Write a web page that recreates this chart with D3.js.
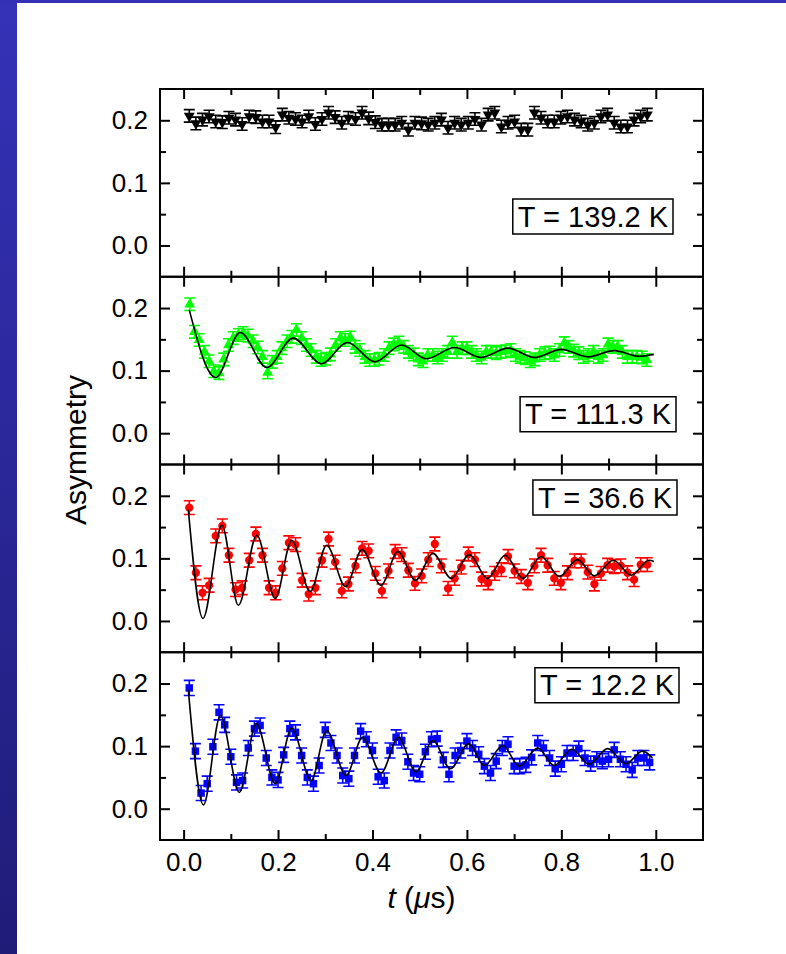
<!DOCTYPE html>
<html>
<head>
<meta charset="utf-8">
<script src="https://cdn.jsdelivr.net/npm/d3@7"></script>
<style>
  body { margin: 0; background: #fff; }
  svg text { font-family: Arial, "Liberation Sans", Helvetica, sans-serif; }
</style>
</head>
<body>
<svg id="chart"></svg>
<script>
// ---------------- data ----------------
// time bins (microseconds)
var timesA = [0.012, 0.026, 0.040, 0.054, 0.068, 0.082, 0.096, 0.110, 0.124, 0.139,
  0.153, 0.167, 0.181, 0.195, 0.209, 0.223, 0.237, 0.251, 0.265, 0.279,
  0.293, 0.307, 0.321, 0.335, 0.349, 0.364, 0.378, 0.392, 0.406, 0.420,
  0.434, 0.448, 0.462, 0.476, 0.490, 0.504, 0.518, 0.532, 0.546, 0.560,
  0.574, 0.588, 0.603, 0.617, 0.631, 0.645, 0.659, 0.673, 0.687, 0.701,
  0.715, 0.729, 0.743, 0.757, 0.771, 0.785, 0.799, 0.813, 0.828, 0.842,
  0.856, 0.870, 0.884, 0.898, 0.912, 0.926, 0.940, 0.954, 0.968, 0.982];
var timesB = [0.013, 0.023, 0.033, 0.044, 0.054, 0.064, 0.075, 0.085, 0.095, 0.105,
  0.116, 0.126, 0.136, 0.147, 0.157, 0.167, 0.178, 0.188, 0.198, 0.208,
  0.219, 0.229, 0.239, 0.250, 0.260, 0.270, 0.281, 0.291, 0.301, 0.311,
  0.322, 0.332, 0.342, 0.353, 0.363, 0.373, 0.384, 0.394, 0.404, 0.414,
  0.425, 0.435, 0.445, 0.456, 0.466, 0.476, 0.487, 0.497, 0.507, 0.517,
  0.528, 0.538, 0.548, 0.559, 0.569, 0.579, 0.590, 0.600, 0.610, 0.620,
  0.631, 0.641, 0.651, 0.662, 0.672, 0.682, 0.693, 0.703, 0.713, 0.723,
  0.734, 0.744, 0.754, 0.765, 0.775, 0.785, 0.796, 0.806, 0.816, 0.826,
  0.837, 0.847, 0.857, 0.868, 0.878, 0.888, 0.899, 0.909, 0.919, 0.929,
  0.940, 0.950, 0.960, 0.971, 0.981];
var timesC = [0.012, 0.025, 0.037, 0.050, 0.062, 0.075, 0.087, 0.100, 0.112, 0.125,
  0.137, 0.150, 0.162, 0.175, 0.187, 0.200, 0.212, 0.225, 0.237, 0.250,
  0.262, 0.275, 0.287, 0.300, 0.312, 0.325, 0.337, 0.350, 0.362, 0.375,
  0.387, 0.400, 0.412, 0.425, 0.437, 0.450, 0.462, 0.475, 0.487, 0.500,
  0.512, 0.525, 0.537, 0.550, 0.562, 0.575, 0.587, 0.600, 0.612, 0.625,
  0.637, 0.650, 0.662, 0.675, 0.687, 0.700, 0.712, 0.725, 0.737, 0.750,
  0.762, 0.775, 0.787, 0.800, 0.812, 0.825, 0.837, 0.850, 0.862, 0.875,
  0.887, 0.900, 0.912, 0.925, 0.937, 0.950, 0.962, 0.975, 0.987];

// asymmetry values
var asym139 = [0.207, 0.195, 0.201, 0.206, 0.198, 0.197, 0.204, 0.201, 0.194, 0.206,
  0.205, 0.198, 0.198, 0.189, 0.209, 0.204, 0.202, 0.198, 0.206, 0.194,
  0.202, 0.212, 0.205, 0.196, 0.204, 0.202, 0.212, 0.203, 0.197, 0.193,
  0.193, 0.193, 0.196, 0.185, 0.196, 0.195, 0.193, 0.196, 0.201, 0.188,
  0.196, 0.193, 0.196, 0.202, 0.193, 0.209, 0.212, 0.190, 0.196, 0.198,
  0.185, 0.185, 0.212, 0.204, 0.198, 0.198, 0.204, 0.206, 0.201, 0.198,
  0.193, 0.196, 0.206, 0.209, 0.196, 0.190, 0.190, 0.201, 0.206, 0.209];
var asym111 = [0.206, 0.162, 0.149, 0.130, 0.115, 0.099, 0.096, 0.118, 0.141, 0.152,
  0.157, 0.160, 0.156, 0.147, 0.137, 0.122, 0.097, 0.114, 0.122, 0.136,
  0.147, 0.154, 0.165, 0.152, 0.141, 0.133, 0.122, 0.117, 0.119, 0.126,
  0.141, 0.152, 0.149, 0.153, 0.138, 0.133, 0.122, 0.117, 0.117, 0.119,
  0.125, 0.136, 0.142, 0.145, 0.138, 0.130, 0.126, 0.118, 0.115, 0.125,
  0.125, 0.121, 0.125, 0.130, 0.145, 0.130, 0.136, 0.136, 0.130, 0.125,
  0.121, 0.130, 0.130, 0.128, 0.130, 0.131, 0.133, 0.125, 0.122, 0.120,
  0.115, 0.118, 0.125, 0.128, 0.129, 0.125, 0.133, 0.144, 0.138, 0.132,
  0.128, 0.122, 0.125, 0.130, 0.122, 0.125, 0.142, 0.138, 0.138, 0.130,
  0.122, 0.122, 0.122, 0.121, 0.117];
var asym36 = [0.181, 0.077, 0.045, 0.057, 0.136, 0.152, 0.105, 0.050, 0.053, 0.097,
  0.139, 0.105, 0.053, 0.045, 0.084, 0.125, 0.122, 0.065, 0.043, 0.053,
  0.097, 0.131, 0.094, 0.048, 0.059, 0.088, 0.116, 0.112, 0.076, 0.048,
  0.080, 0.111, 0.106, 0.081, 0.060, 0.072, 0.098, 0.123, 0.088, 0.052,
  0.068, 0.086, 0.107, 0.098, 0.067, 0.061, 0.076, 0.082, 0.103, 0.080,
  0.071, 0.061, 0.088, 0.105, 0.089, 0.068, 0.061, 0.077, 0.096, 0.096,
  0.078, 0.059, 0.076, 0.089, 0.087, 0.088, 0.077, 0.066, 0.090, 0.090];
var asym12 = [0.193, 0.092, 0.025, 0.040, 0.099, 0.154, 0.134, 0.083, 0.042, 0.045,
  0.097, 0.128, 0.133, 0.081, 0.050, 0.046, 0.086, 0.128, 0.122, 0.085,
  0.050, 0.040, 0.069, 0.126, 0.105, 0.085, 0.053, 0.048, 0.085, 0.124,
  0.111, 0.093, 0.051, 0.045, 0.093, 0.114, 0.109, 0.075, 0.057, 0.055,
  0.091, 0.111, 0.112, 0.078, 0.055, 0.085, 0.093, 0.108, 0.097, 0.087,
  0.068, 0.057, 0.076, 0.097, 0.103, 0.068, 0.068, 0.070, 0.082, 0.105,
  0.097, 0.081, 0.064, 0.071, 0.089, 0.089, 0.096, 0.081, 0.072, 0.079,
  0.076, 0.079, 0.094, 0.079, 0.071, 0.062, 0.081, 0.081, 0.074];

// error bar half-widths per panel
var errors = [0.010, 0.010, 0.011, 0.012];

// fit curves: turning points of the black lines
var fit111T = [0.012, 0.068, 0.120, 0.176, 0.232, 0.292, 0.347, 0.405, 0.462, 0.514,
  0.574, 0.630, 0.687, 0.743, 0.800, 0.856, 0.912, 0.965, 0.996];
var fit111Y = [0.197, 0.089, 0.161, 0.105, 0.152, 0.111, 0.145, 0.114, 0.141, 0.119,
  0.137, 0.121, 0.136, 0.121, 0.134, 0.122, 0.132, 0.123, 0.126];
var fit36T = [0.010, 0.041, 0.081, 0.116, 0.155, 0.194, 0.229, 0.268, 0.303, 0.343,
  0.378, 0.418, 0.454, 0.491, 0.528, 0.567, 0.605, 0.644, 0.681, 0.719,
  0.757, 0.796, 0.834, 0.870, 0.910, 0.948, 0.986, 0.996];
var fit36Y = [0.178, 0.004, 0.153, 0.025, 0.137, 0.036, 0.129, 0.047, 0.121, 0.055,
  0.114, 0.057, 0.111, 0.065, 0.108, 0.068, 0.106, 0.068, 0.105, 0.068,
  0.103, 0.071, 0.098, 0.072, 0.097, 0.073, 0.097, 0.095];
var fit12T = [0.010, 0.042, 0.078, 0.118, 0.154, 0.194, 0.229, 0.270, 0.303, 0.344,
  0.379, 0.418, 0.455, 0.492, 0.528, 0.565, 0.604, 0.637, 0.676, 0.711,
  0.750, 0.785, 0.822, 0.859, 0.898, 0.937, 0.972, 0.993];
var fit12Y = [0.190, 0.006, 0.149, 0.026, 0.136, 0.040, 0.129, 0.045, 0.125, 0.053,
  0.114, 0.057, 0.114, 0.059, 0.109, 0.064, 0.104, 0.069, 0.101, 0.068,
  0.097, 0.069, 0.095, 0.071, 0.096, 0.072, 0.092, 0.081];

var tempLabels = ["T = 139.2 K", "T = 111.3 K", "T = 36.6 K", "T = 12.2 K"];
var xTicks = [0, 0.2, 0.4, 0.6, 0.8, 1.0];
var xMinor = [0.1, 0.3, 0.5, 0.7, 0.9];
var yTicks = [0, 0.1, 0.2];
var yMinor = [0.05, 0.15];

// ---------------- layout ----------------
var W = 786, H = 954;
var plotLeft = 160, plotRight = 703, plotTop = 89, panelH = 187.75;
var boxRight = [673, 676, 677, 679];
var boxTop = [110, 120, 15.5, 15.5];
var fontStack = 'Arial, "Liberation Sans", Helvetica, sans-serif';

var panels = [
  {t: timesA, v: asym139, color: '#000000', shape: 'down', size: 52, err: errors[0], fitT: null, fitY: null},
  {t: timesB, v: asym111, color: '#00ff00', shape: 'up', size: 52, err: errors[1], fitT: fit111T, fitY: fit111Y},
  {t: timesA, v: asym36, color: '#ff0000', shape: 'circle', size: 54, err: errors[2], fitT: fit36T, fitY: fit36Y},
  {t: timesC, v: asym12, color: '#0000ff', shape: 'square', size: 56, err: errors[3], fitT: fit12T, fitY: fit12Y}
];

var svg = d3.select('#chart').attr('width', W).attr('height', H);

// blue slide edge
var grad = svg.append('defs').append('linearGradient')
  .attr('id', 'edge').attr('x1', 0).attr('y1', 0).attr('x2', 0).attr('y2', 1);
grad.append('stop').attr('offset', '0%').attr('stop-color', '#3532b8');
grad.append('stop').attr('offset', '100%').attr('stop-color', '#1f1c78');
svg.append('rect').attr('width', W).attr('height', H).attr('fill', '#ffffff');
svg.append('rect').attr('x', 0).attr('y', 0).attr('width', 17).attr('height', H).attr('fill', 'url(#edge)');
svg.append('rect').attr('x', 0).attr('y', 0).attr('width', W).attr('height', 3).attr('fill', '#3431b6');

var x = d3.scaleLinear().domain([-0.05, 1.1]).range([plotLeft, plotRight]);

function styleAxis(sel) {
  sel.select('.domain').remove();
  sel.selectAll('line').attr('stroke', '#000').attr('stroke-width', 2);
  sel.selectAll('text').attr('font-size', 26).attr('font-family', fontStack).attr('fill', '#000');
}

var shapes = {up: d3.symbolTriangle, down: d3.symbolTriangle, circle: d3.symbolCircle, square: d3.symbolSquare};

panels.forEach(function(p, k) {
  var y0 = plotTop + k * panelH, y1 = y0 + panelH;
  var y = d3.scaleLinear().domain([-0.05, 0.25]).range([y1, y0]);
  var g = svg.append('g');
  var last = (k === panels.length - 1);

  // ticks on all four sides, pointing inward
  g.append('g').attr('transform', 'translate(' + plotLeft + ',0)')
    .call(d3.axisLeft(y).tickValues(yTicks).tickSize(-10).tickPadding(12).tickFormat(d3.format('.1f')))
    .call(styleAxis);
  g.append('g').attr('transform', 'translate(' + plotLeft + ',0)')
    .call(d3.axisLeft(y).tickValues(yMinor).tickSize(-6).tickFormat(''))
    .call(styleAxis);
  g.append('g').attr('transform', 'translate(' + plotRight + ',0)')
    .call(d3.axisRight(y).tickValues(yTicks).tickSize(-10).tickFormat(''))
    .call(styleAxis);
  g.append('g').attr('transform', 'translate(' + plotRight + ',0)')
    .call(d3.axisRight(y).tickValues(yMinor).tickSize(-6).tickFormat(''))
    .call(styleAxis);
  g.append('g').attr('transform', 'translate(0,' + y0 + ')')
    .call(d3.axisTop(x).tickValues(xTicks).tickSize(-10).tickFormat(''))
    .call(styleAxis);
  g.append('g').attr('transform', 'translate(0,' + y0 + ')')
    .call(d3.axisTop(x).tickValues(xMinor).tickSize(-6).tickFormat(''))
    .call(styleAxis);
  g.append('g').attr('transform', 'translate(0,' + y1 + ')')
    .call(d3.axisBottom(x).tickValues(xTicks).tickSize(-10).tickPadding(13)
      .tickFormat(last ? d3.format('.1f') : ''))
    .call(styleAxis);
  g.append('g').attr('transform', 'translate(0,' + y1 + ')')
    .call(d3.axisBottom(x).tickValues(xMinor).tickSize(-6).tickFormat(''))
    .call(styleAxis);

  var pts = p.t.map(function(t, i) { return {t: t, v: p.v[i]}; });

  // error bars with caps
  g.append('g').attr('stroke', p.color).attr('stroke-width', 1.6).attr('fill', 'none')
    .selectAll('path').data(pts).enter().append('path')
    .attr('d', function(d) {
      var cx = x(d.t), hi = y(d.v + p.err), lo = y(d.v - p.err);
      return 'M' + (cx - 5.5) + ',' + hi + 'H' + (cx + 5.5) +
             'M' + cx + ',' + hi + 'V' + lo +
             'M' + (cx - 5.5) + ',' + lo + 'H' + (cx + 5.5);
    });

  // markers
  var sym = d3.symbol().type(shapes[p.shape]).size(p.size);
  g.append('g').selectAll('path').data(pts).enter().append('path')
    .attr('d', sym)
    .attr('fill', p.color)
    .attr('transform', function(d) {
      return 'translate(' + x(d.t) + ',' + y(d.v) + ')' + (p.shape === 'down' ? ' rotate(180)' : '');
    });

  // fit
  if (p.fitT) {
    var fit = p.fitT.map(function(t, i) { return {t: t, v: p.fitY[i]}; });
    var line = d3.line().curve(d3.curveMonotoneX)
      .x(function(d) { return x(d.t); })
      .y(function(d) { return y(d.v); });
    g.append('path').datum(fit)
      .attr('d', line)
      .attr('fill', 'none')
      .attr('stroke', '#000')
      .attr('stroke-width', 1.6);
  }

  // frame
  g.append('rect')
    .attr('x', plotLeft).attr('y', y0)
    .attr('width', plotRight - plotLeft).attr('height', panelH)
    .attr('fill', 'none').attr('stroke', '#000').attr('stroke-width', 2);

  // temperature box
  var box = g.append('rect');
  var lab = g.append('text')
    .attr('x', boxRight[k] - 5)
    .attr('y', y0 + boxTop[k] + 27.5)
    .attr('text-anchor', 'end')
    .attr('font-size', 29)
    .attr('fill', '#000')
    .text(tempLabels[k]);
  var w = lab.node().getComputedTextLength();
  box.attr('x', boxRight[k] - w - 10).attr('y', y0 + boxTop[k])
    .attr('width', w + 10).attr('height', 35)
    .attr('fill', '#fff').attr('stroke', '#000').attr('stroke-width', 1.5);
});

// axis titles
svg.append('text')
  .attr('transform', 'translate(86,450) rotate(-90)')
  .attr('text-anchor', 'middle')
  .attr('font-size', 30)
  .attr('fill', '#000')
  .text('Asymmetry');

var xt = svg.append('text')
  .attr('x', (plotLeft + plotRight) / 2 - 10)
  .attr('y', 908)
  .attr('text-anchor', 'middle')
  .attr('font-size', 30)
  .attr('fill', '#000');
xt.append('tspan').attr('font-style', 'italic').text('t');
xt.append('tspan').text(' (');
xt.append('tspan').attr('font-style', 'italic').text('\u03bc');
xt.append('tspan').text('s)');
</script>
</body>
</html>
